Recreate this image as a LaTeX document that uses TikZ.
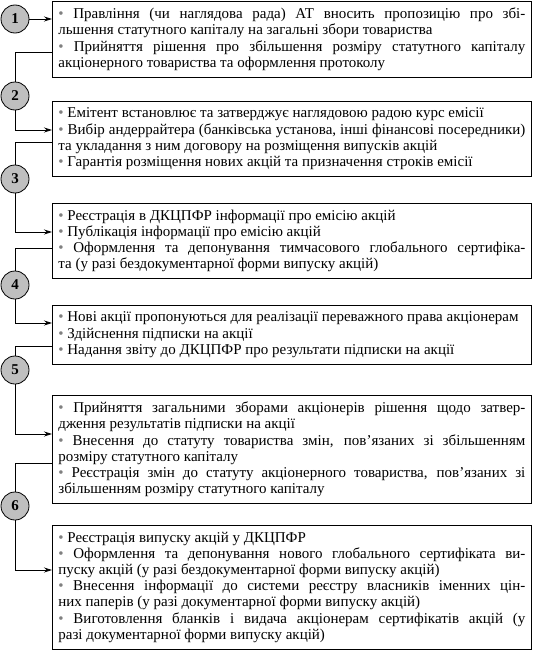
\documentclass[tikz,border=0pt]{standalone}
\usepackage{fontspec}
\setmainfont{Liberation Serif}
\usetikzlibrary{positioning,arrows.meta}

\tikzset{
  stage/.style={draw,line width=0.8pt,anchor=north west,text width=467pt,
    inner xsep=6pt,inner ysep=6.5pt,align=justify,
    font=\fontsize{15}{16.2}\selectfont},
  num/.style={circle,draw,line width=0.8pt,fill=gray!50,minimum size=28pt,
    inner sep=0pt,font=\fontsize{15}{16}\selectfont\bfseries},
  link/.style={line width=0.8pt},
}
\newcommand{\itm}{{\color{gray}\textbullet}\ }

\begin{document}
\begin{tikzpicture}[>={Stealth[length=8pt,width=5pt]}]
  \useasboundingbox (0,0) rectangle (534pt,-653pt);

  % stages
  \node[stage] (s1) at (52pt,-1pt) {\itm Правління (чи наглядова рада) АТ вносить пропозицію про збі-\linebreak льшення статутного капіталу на загальні збори товариства\par
    \itm Прийняття рішення про збільшення розміру статутного капіталу\linebreak акціонерного товариства та оформлення протоколу};
  \node[stage] (s2) at (52pt,-101pt) {\itm Емітент встановлює та затверджує наглядовою радою курс емісії\par
    \itm Вибір андеррайтера (банківська установа, інші фінансові посередники)\linebreak та укладання з ним договору на розміщення випусків акцій\par
    \itm Гарантія розміщення нових акцій та призначення строків емісії};
  \node[stage] (s3) at (52pt,-203pt) {\itm Реєстрація в ДКЦПФР інформації про емісію акцій\par
    \itm Публікація інформації про емісію акцій\par
    \itm Оформлення та депонування тимчасового глобального сертифіка-\linebreak та (у разі бездокументарної форми випуску акцій)};
  \node[stage] (s4) at (52pt,-305pt) {\itm Нові акції пропонуються для реалізації переважного права акціонерам\par
    \itm Здійснення підписки на акції\par
    \itm Надання звіту до ДКЦПФР про результати підписки на акції};
  \node[stage] (s5) at (52pt,-395pt) {\itm Прийняття загальними зборами акціонерів рішення щодо затвер-\linebreak дження результатів підписки на акції\par
    \itm Внесення до статуту товариства змін, пов’язаних зі збільшенням\linebreak розміру статутного капіталу\par
    \itm Реєстрація змін до статуту акціонерного товариства, пов’язаних зі\linebreak збільшенням розміру статутного капіталу};
  \node[stage] (s6) at (52pt,-525pt) {\itm Реєстрація випуску акцій у ДКЦПФР\par
    \itm Оформлення та депонування нового глобального сертифіката ви-\linebreak пуску акцій (у разі бездокументарної форми випуску акцій)\par
    \itm Внесення інформації до системи реєстру власників іменних цін-\linebreak них паперів (у разі документарної форми випуску акцій)\par
    \itm Виготовлення бланків і видача акціонерам сертифікатів акцій (у\linebreak разі документарної форми випуску акцій)};

  % step numbers
  \node[num] (n1) at (15pt,-19pt) {1};
  \node[num] (n2) at (15pt,-96pt) {2};
  \node[num] (n3) at (15pt,-179pt) {3};
  \node[num] (n4) at (15pt,-285pt) {4};
  \node[num] (n5) at (15pt,-370pt) {5};
  \node[num] (n6) at (15pt,-506pt) {6};

  % connectors
  \draw[link,->] (n1) -- (n1 -| s1.west);
  \draw[link] ([yshift=-51pt]s1.north west) -| (n2);
  \draw[link,->] (n2) |- ([yshift=-29pt]s2.north west);
  \draw[link] ([yshift=-41pt]s2.north west) -| (n3);
  \draw[link,->] (n3) |- ([yshift=-29pt]s3.north west);
  \draw[link] ([yshift=-45pt]s3.north west) -| (n4);
  \draw[link,->] (n4) |- ([yshift=-18pt]s4.north west);
  \draw[link] ([yshift=-41pt]s4.north west) -| (n5);
  \draw[link,->] (n5) |- ([yshift=-39pt]s5.north west);
  \draw[link] ([yshift=-68pt]s5.north west) -| (n6);
  \draw[link,->] (n6) |- ([yshift=-45pt]s6.north west);
\end{tikzpicture}
\end{document}
